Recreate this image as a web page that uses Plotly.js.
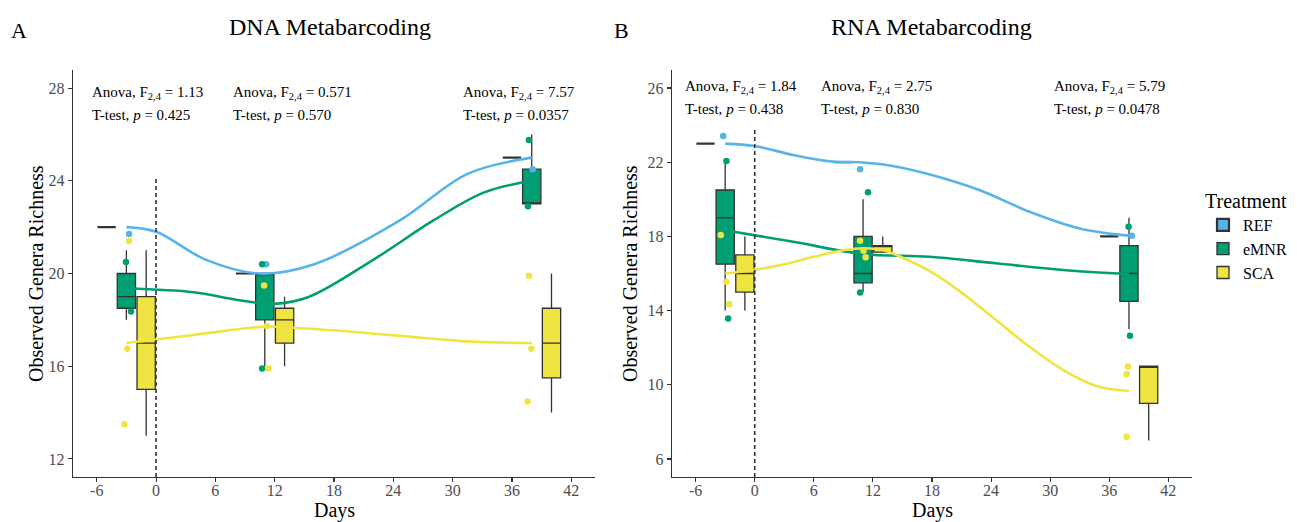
<!DOCTYPE html>
<html>
<head>
<meta charset="utf-8">
<script src="https://cdn.plot.ly/plotly-3.0.1.min.js"></script>
<style>html,body{margin:0;padding:0;background:#fff;}#chart{width:1297px;height:522px;}</style>
</head>
<body>
<div id="chart"></div>
<script>
// ---------- DATA ----------
const treatments = ["REF", "eMNR", "SCA"];
const colors = {REF: "#56B4E9", eMNR: "#009E73", SCA: "#F0E442"};
const xTicks = [-6, 0, 6, 12, 18, 24, 30, 36, 42];
const xTickLabels = ["-6", "0", "6", "12", "18", "24", "30", "36", "42"];
const yTicksDNA = [12, 16, 20, 24, 28];
const yTicksRNA = [6, 10, 14, 18, 22, 26];

// box positions (dodged around sampling days -3, 11, 38)
const boxX_REF = [-5, 9, 36];
const boxX_eMNR = [-3, 11, 38];
const boxX_SCA = [-1, 13, 40];

// DNA box statistics
const dna_REF_q1 = [22, 20, 25], dna_REF_med = [22, 20, 25], dna_REF_q3 = [22, 20, 25], dna_REF_lo = [22, 20, 25], dna_REF_hi = [22, 20, 25];
const dna_eMNR_q1 = [18.5, 18, 23], dna_eMNR_med = [19, 20, 23], dna_eMNR_q3 = [20, 20, 24.5], dna_eMNR_lo = [18, 16, 23], dna_eMNR_hi = [21, 20, 26];
const dna_SCA_q1 = [15, 17, 15.5], dna_SCA_med = [17, 18, 17], dna_SCA_q3 = [19, 18.5, 18.5], dna_SCA_lo = [13, 16, 14], dna_SCA_hi = [21, 19, 20];

// RNA box statistics
const rna_REF_q1 = [23, 22, 18], rna_REF_med = [23, 22, 18], rna_REF_q3 = [23, 22, 18], rna_REF_lo = [23, 22, 18], rna_REF_hi = [23, 22, 18];
const rna_eMNR_q1 = [16.5, 15.5, 14.5], rna_eMNR_med = [19, 16, 16], rna_eMNR_q3 = [20.5, 18, 17.5], rna_eMNR_lo = [14, 15, 13], rna_eMNR_hi = [22, 20, 19];
const rna_SCA_q1 = [15, 17.15, 9], rna_SCA_med = [16, 17.5, 11], rna_SCA_q3 = [17, 17.5, 11], rna_SCA_lo = [14, 17.15, 7], rna_SCA_hi = [18, 18, 11];

// DNA jittered points
const dna_pts_REF_x = [-2.73, 11.13, 38.09], dna_pts_REF_y = [21.7, 20.4, 24.5];
const dna_pts_eMNR_x = [-3.04, -2.53, 10.73, 10.73, 37.72, 37.62], dna_pts_eMNR_y = [20.5, 18.36, 20.4, 15.9, 25.76, 22.9];
const dna_pts_SCA_x = [-2.73, -2.9, -3.2, 10.93, 11.2, 11.37, 37.72, 37.96, 37.58], dna_pts_SCA_y = [21.4, 16.75, 13.5, 19.48, 17.74, 15.9, 19.9, 16.75, 14.48];

// RNA jittered points
const rna_pts_REF_x = [-3.2, 10.7, 38.3], rna_pts_REF_y = [23.41, 21.62, 18.04];
const rna_pts_eMNR_x = [-2.87, -2.7, 11.5, 10.7, 37.96, 38.1], rna_pts_eMNR_y = [22.06, 13.58, 20.38, 14.97, 18.52, 12.65];
const rna_pts_SCA_x = [-3.45, -2.87, -2.6, 10.7, 11.05, 11.26, 37.9, 37.75, 37.75], rna_pts_SCA_y = [18.08, 15.56, 14.34, 17.77, 17.23, 16.87, 10.98, 10.58, 7.2];

// smoothed trend lines
const dna_fit_REF_x = [-3, 0, 5, 10.5, 16, 24.7, 31.5, 38];
const dna_fit_REF_y = [22.0, 21.8, 20.6, 20.0, 20.4, 22.3, 24.3, 25.0];
const dna_fit_eMNR_x = [-3, 3.8, 8.2, 11.9, 15.5, 22, 28.1, 33.2, 38];
const dna_fit_eMNR_y = [19.35, 19.19, 18.86, 18.69, 19.0, 20.6, 22.3, 23.5, 24.0];
const dna_fit_SCA_x = [-3, 3.8, 11.2, 14.6, 18.6, 24.7, 31.5, 38];
const dna_fit_SCA_y = [17.0, 17.35, 17.71, 17.64, 17.53, 17.31, 17.07, 17.0];

const rna_fit_REF_x = [-3, 0, 3.9, 7.9, 10.65, 14, 17.7, 22.8, 27.9, 33, 38];
const rna_fit_REF_y = [23.0, 22.87, 22.39, 22.03, 22.0, 21.8, 21.35, 20.5, 19.33, 18.43, 18.04];
const rna_fit_eMNR_x = [-3, 3.9, 11, 17.7, 24.5, 31.3, 38];
const rna_fit_eMNR_y = [18.33, 17.71, 17.05, 16.9, 16.55, 16.19, 15.97];
const rna_fit_SCA_x = [-3, 0, 3, 6, 9, 11, 13, 15.7, 17.7, 21.1, 24.5, 27.9, 31.3, 34.65, 38];
const rna_fit_SCA_y = [16.0, 16.2, 16.5, 16.9, 17.25, 17.36, 17.27, 16.68, 16.15, 14.93, 13.49, 12.05, 10.8, 9.94, 9.67];

// statistics text
const dna_stats = [
  {x: -6.7, anova: "1.13", p: "0.425"},
  {x: 7.6, anova: "0.571", p: "0.570"},
  {x: 30.8, anova: "7.57", p: "0.0357"}
];
const rna_stats = [
  {x: -7.3, anova: "1.84", p: "0.438"},
  {x: 6.5, anova: "2.75", p: "0.830"},
  {x: 30.2, anova: "5.79", p: "0.0478"}
];

// ---------- BUILD ----------
const FONT = "Liberation Serif, Times New Roman, serif";
const traces = [];

function addBox(name, xs, q1, med, q3, lo, hi, xa, ya, showLegend) {
  traces.push({
    type: "box", name: name, x: xs, q1: q1, median: med, q3: q3,
    lowerfence: lo, upperfence: hi, width: 1.85,
    fillcolor: colors[name],
    line: {color: "#333333", width: name === "REF" ? 2.2 : 1.3},
    whiskerwidth: 0, boxpoints: false,
    xaxis: xa, yaxis: ya, showlegend: showLegend, legendgroup: name,
    hoverinfo: "skip"
  });
}
function addFit(name, xs, ys, xa, ya) {
  traces.push({
    type: "scatter", mode: "lines", x: xs, y: ys,
    line: {color: colors[name], width: 2.6, shape: "spline", smoothing: 1.0},
    xaxis: xa, yaxis: ya, showlegend: false, hoverinfo: "skip"
  });
}
function addPts(name, xs, ys, xa, ya) {
  traces.push({
    type: "scatter", mode: "markers", x: xs, y: ys,
    marker: {color: colors[name], size: 6.5},
    xaxis: xa, yaxis: ya, showlegend: false, hoverinfo: "skip"
  });
}

// DNA
addBox("REF", boxX_REF, dna_REF_q1, dna_REF_med, dna_REF_q3, dna_REF_lo, dna_REF_hi, "x", "y", true);
addBox("eMNR", boxX_eMNR, dna_eMNR_q1, dna_eMNR_med, dna_eMNR_q3, dna_eMNR_lo, dna_eMNR_hi, "x", "y", true);
addBox("SCA", boxX_SCA, dna_SCA_q1, dna_SCA_med, dna_SCA_q3, dna_SCA_lo, dna_SCA_hi, "x", "y", true);
// RNA
addBox("REF", boxX_REF, rna_REF_q1, rna_REF_med, rna_REF_q3, rna_REF_lo, rna_REF_hi, "x2", "y2", false);
addBox("eMNR", boxX_eMNR, rna_eMNR_q1, rna_eMNR_med, rna_eMNR_q3, rna_eMNR_lo, rna_eMNR_hi, "x2", "y2", false);
addBox("SCA", boxX_SCA, rna_SCA_q1, rna_SCA_med, rna_SCA_q3, rna_SCA_lo, rna_SCA_hi, "x2", "y2", false);

addFit("REF", dna_fit_REF_x, dna_fit_REF_y, "x", "y");
addFit("eMNR", dna_fit_eMNR_x, dna_fit_eMNR_y, "x", "y");
addFit("SCA", dna_fit_SCA_x, dna_fit_SCA_y, "x", "y");
addFit("REF", rna_fit_REF_x, rna_fit_REF_y, "x2", "y2");
addFit("eMNR", rna_fit_eMNR_x, rna_fit_eMNR_y, "x2", "y2");
addFit("SCA", rna_fit_SCA_x, rna_fit_SCA_y, "x2", "y2");

addPts("REF", dna_pts_REF_x, dna_pts_REF_y, "x", "y");
addPts("eMNR", dna_pts_eMNR_x, dna_pts_eMNR_y, "x", "y");
addPts("SCA", dna_pts_SCA_x, dna_pts_SCA_y, "x", "y");
addPts("REF", rna_pts_REF_x, rna_pts_REF_y, "x2", "y2");
addPts("eMNR", rna_pts_eMNR_x, rna_pts_eMNR_y, "x2", "y2");
addPts("SCA", rna_pts_SCA_x, rna_pts_SCA_y, "x2", "y2");

const W = 1297, H = 522;
const px = v => v / W, py = v => (H - v) / H;

const axisCommon = {
  showgrid: false, zeroline: false, showline: true, linecolor: "#333333", linewidth: 1.3,
  ticks: "outside", ticklen: 4, tickwidth: 1.1, tickcolor: "#333333",
  tickfont: {family: FONT, size: 16, color: "#4D4D4D"}, fixedrange: true
};

const annotations = [];
function statsAnn(list, xref, yref, y1, y2) {
  list.forEach(s => {
    annotations.push({xref: xref, yref: yref, x: s.x, y: y1, xanchor: "left", yanchor: "middle", showarrow: false,
      text: "Anova, F<sub>2,4</sub> = " + s.anova, font: {family: FONT, size: 15, color: "#000"}});
    annotations.push({xref: xref, yref: yref, x: s.x, y: y2, xanchor: "left", yanchor: "middle", showarrow: false,
      text: "T-test, <i>p</i> = " + s.p, font: {family: FONT, size: 15, color: "#000"}});
  });
}
statsAnn(dna_stats, "x", "y", 27.78, 26.84);
statsAnn(rna_stats, "x2", "y2", 26.07, 24.85);

const txt = (text, x, y, size, extra) => Object.assign({xref: "paper", yref: "paper", x: px(x), y: py(y),
  xanchor: "center", yanchor: "middle", showarrow: false, text: text, font: {family: FONT, size: size, color: "#000"}}, extra || {});
annotations.push(txt("A", 19, 30, 22));
annotations.push(txt("B", 621, 30, 22));
annotations.push(txt("DNA Metabarcoding", 330, 27, 24));
annotations.push(txt("RNA Metabarcoding", 931, 27, 24));
annotations.push(txt("Days", 334, 510, 20));
annotations.push(txt("Days", 932, 510, 20));
annotations.push(txt("Observed Genera Richness", 36, 274, 20, {textangle: -90}));
annotations.push(txt("Observed Genera Richness", 630, 274, 20, {textangle: -90}));

const xAxisExtra = {range: [-8.4, 44.4], tickvals: xTicks, ticktext: xTickLabels};
const layout = {
  width: W, height: H, margin: {l: 0, r: 0, t: 0, b: 0},
  paper_bgcolor: "#ffffff", plot_bgcolor: "#ffffff",
  boxmode: "overlay",
  showlegend: true,
  legend: {x: px(1203), y: py(182), xanchor: "left", yanchor: "top", traceorder: "normal",
    title: {text: "Treatment", font: {family: FONT, size: 20, color: "#000"}},
    font: {family: FONT, size: 16, color: "#000"}, bgcolor: "rgba(0,0,0,0)", tracegroupgap: 0},
  xaxis: Object.assign({}, axisCommon, xAxisExtra, {domain: [px(73), px(595)], anchor: "y"}),
  yaxis: Object.assign({}, axisCommon, {domain: [py(477), py(70)], range: [11.22, 28.78], tickvals: yTicksDNA, anchor: "x"}),
  xaxis2: Object.assign({}, axisCommon, xAxisExtra, {domain: [px(672), px(1192)], anchor: "y2"}),
  yaxis2: Object.assign({}, axisCommon, {domain: [py(477), py(70)], range: [5.03, 26.97], tickvals: yTicksRNA, anchor: "x2"}),
  shapes: [
    {type: "line", xref: "x", yref: "y", x0: 0, x1: 0, y0: 11.22, y1: 24.1, line: {color: "#333333", width: 1.6, dash: "4px,3px"}},
    {type: "line", xref: "x2", yref: "y2", x0: 0, x1: 0, y0: 5.03, y1: 23.75, line: {color: "#333333", width: 1.6, dash: "4px,3px"}}
  ],
  annotations: annotations
};

Plotly.newPlot("chart", traces, layout, {staticPlot: true, displayModeBar: false}).then(gd => {
  // nudge x tick labels a little closer to the axis, as in the reference
  gd.querySelectorAll(".xtick text, .x2tick text").forEach(t => {
    const tr = t.getAttribute("transform") || "";
    t.setAttribute("transform", "translate(0,-6) " + tr);
  });
});
</script>
</body>
</html>
